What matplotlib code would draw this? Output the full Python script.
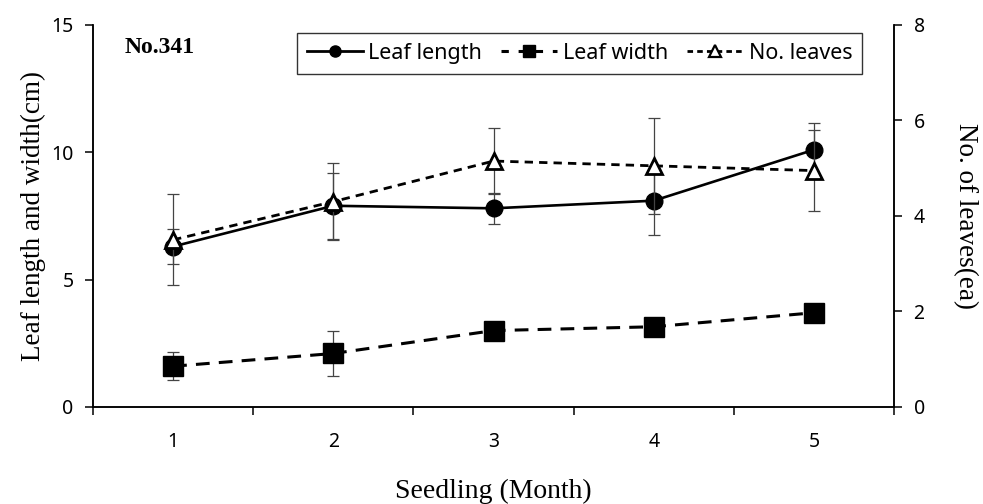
import matplotlib
matplotlib.use("Agg")
import matplotlib.pyplot as plt
from matplotlib.lines import Line2D
import numpy as np

plt.rcParams['font.family'] = ['Noto Sans', 'DejaVu Sans']

months = [1, 2, 3, 4, 5]
leaf_length = [6.3, 7.9, 7.8, 8.1, 10.1]
leaf_length_err = [0.7, 1.3, 0.6, 1.35, 1.05]
leaf_width = [1.6, 2.1, 3.0, 3.15, 3.7]
leaf_width_err = [0.55, 0.9, 0.2, 0.2, 0.2]
n_leaves = [3.5, 4.3, 5.15, 5.05, 4.95]
n_leaves_err = [0.95, 0.8, 0.7, 1.0, 0.85]

serif = 'Liberation Serif'
err_kw = dict(ecolor='#444444', elinewidth=0.9, capsize=4, capthick=0.9)

fig = plt.figure(figsize=(9.83, 5.04), dpi=100)
ax = fig.add_axes([0.0946, 0.1925, 0.815, 0.758])
ax2 = ax.twinx()

# error bars first so the markers sit on top
ax.errorbar(months, leaf_length, yerr=leaf_length_err, fmt='none', zorder=1, **err_kw)
ax.errorbar(months, leaf_width, yerr=leaf_width_err, fmt='none', zorder=1, **err_kw)
ax2.errorbar(months, n_leaves, yerr=n_leaves_err, fmt='none', zorder=1, **err_kw)

ax.plot(months, leaf_length, color='black', lw=1.9, marker='o', ms=12, zorder=3)
ax.plot(months, leaf_width, color='black', lw=2.2, ls=(0, (4.5, 3)), marker='s',
        ms=14, zorder=3)
ax2.plot(months, n_leaves, color='black', lw=2.0, ls=(0, (3, 2.2)), marker='^', ms=12,
         mfc='white', mec='black', mew=2, zorder=3)

ax.set_xlim(0.5, 5.5)
ax.set_ylim(0, 15)
ax2.set_ylim(0, 8)
ax.set_yticks([0, 5, 10, 15])
ax2.set_yticks([0, 2, 4, 6, 8])
ax.set_xticks(months)
ax.set_xticks(np.arange(0.5, 6, 1), minor=True)
ax.tick_params(axis='x', which='major', length=0, pad=18, labelsize=14)
ax.tick_params(axis='x', which='minor', length=6, width=1.1)
ax.tick_params(axis='y', length=6, width=1.1, labelsize=14, pad=8)
ax2.tick_params(axis='y', length=6, width=1.1, labelsize=14, pad=8)

for a in (ax, ax2):
    a.spines['top'].set_visible(False)
    for s in ('left', 'right', 'bottom'):
        a.spines[s].set_linewidth(1.1)

ax.set_xlabel('Seedling (Month)', family=serif, fontsize=20, labelpad=19)
ax.set_ylabel('Leaf length and width(cm)', family=serif, fontsize=19.5, labelpad=4)
ax2.set_ylabel('No. of leaves(ea)', family=serif, fontsize=19.5, rotation=270, labelpad=38)

ax.text(0.04, 0.94, 'No.341', transform=ax.transAxes, family=serif, fontsize=17,
        fontweight='bold', va='center', ha='left')

handles = [
    Line2D([], [], color='black', lw=2.0, marker='o', ms=8),
    Line2D([], [], color='black', lw=2.2, ls=(0, (2.4, 3.2)), marker='s', ms=9),
    Line2D([], [], color='black', lw=2.0, ls=(0, (2, 1.5)), marker='^', ms=8,
           mfc='white', mec='black', mew=1.6),
]
leg = ax.legend(handles, ['Leaf length', 'Leaf width', 'No. leaves'], loc='upper right',
                bbox_to_anchor=(0.968, 0.995), ncol=3, fontsize=15.5, frameon=True,
                fancybox=False, edgecolor='black', handlelength=2.6, handletextpad=0.25,
                columnspacing=0.9, borderpad=0.45, borderaxespad=0.3)
leg.get_frame().set_linewidth(1.0)
leg.set_zorder(5)

fig.savefig('out.png', dpi=100)
